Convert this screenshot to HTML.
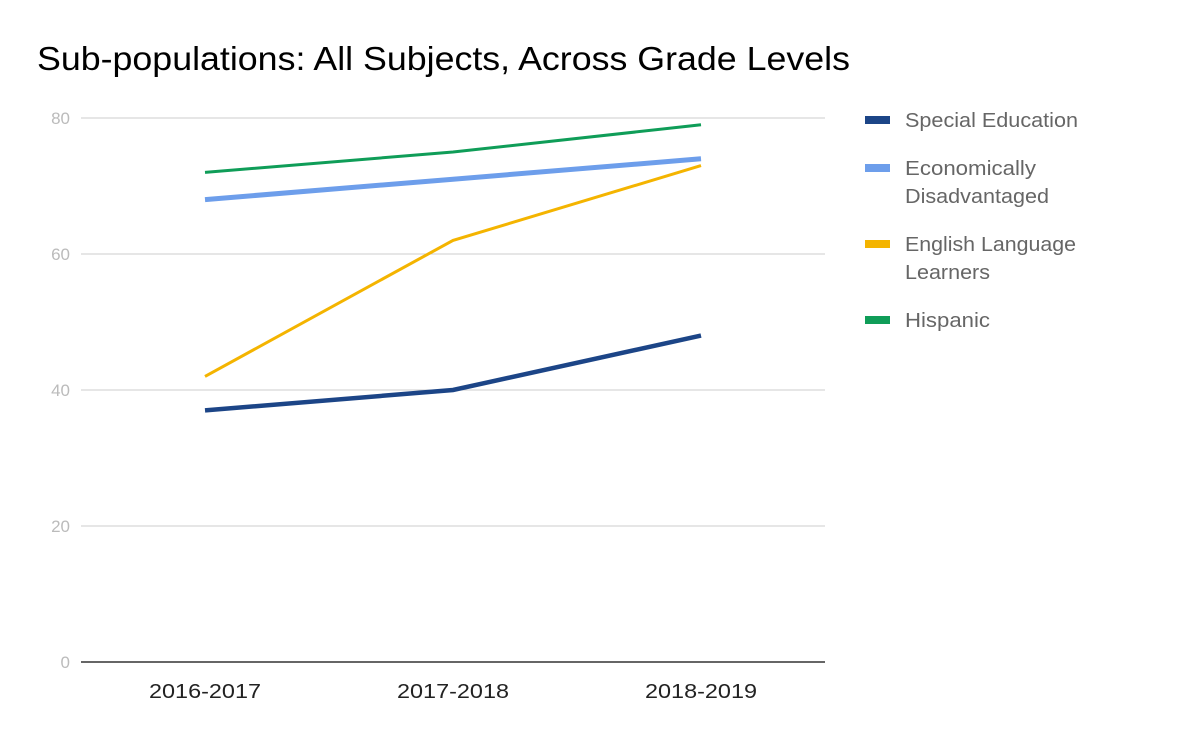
<!DOCTYPE html>
<html><head><meta charset="utf-8"><style>
body{margin:0;background:#fff;}
svg{display:block;font-family:"Liberation Sans",sans-serif;}
</style></head><body>
<svg id="chart" width="1200" height="742">
<text x="37" y="70" font-size="33" fill="#000" textLength="813" lengthAdjust="spacingAndGlyphs">Sub-populations: All Subjects, Across Grade Levels</text>
<g id="grid"></g><g id="lines"></g><g id="legend"></g>
</svg>
<script>
const categories = ["2016-2017","2017-2018","2018-2019"];
const yTicks = [0,20,40,60,80];
const seriesNames = ["Special Education","Economically Disadvantaged","English Language Learners","Hispanic"];
const specialEd = [37,40,48];
const econDis = [68,71,74];
const ell = [42,62,73];
const hispanic = [72,75,79];
const NS="http://www.w3.org/2000/svg";
const x0=81,x1=825,yBase=662,yTop=118,yMax=80;
const y=v=>yBase-(yBase-yTop)*v/yMax;
const bw=(x1-x0)/categories.length;
const x=i=>x0+bw*(i+0.5);
function mk(t,a,p){const e=document.createElementNS(NS,t);for(const k in a)e.setAttribute(k,a[k]);p.appendChild(e);return e;}
const grid=document.getElementById('grid');
yTicks.forEach(v=>{
 if(v>0){const l=mk('line',{x1:x0,x2:x1,y1:y(v),y2:y(v),stroke:'#ccc','stroke-width':1},grid);
 
 }
 const t=mk('text',{x:70,y:y(v)+6,'text-anchor':'end','font-size':17,fill:'#bbb'},grid);t.textContent=v;
 
 
});
const ax=mk('line',{x1:x0,x2:x1,y1:yBase,y2:yBase,stroke:'#333','stroke-width':1.5},grid);


categories.forEach((c,i)=>{const t=mk('text',{x:x(i),y:698,'text-anchor':'middle','font-size':20,fill:'#222',textLength:112,lengthAdjust:'spacingAndGlyphs'},grid);t.textContent=c;
 
 });
const series=[[specialEd,'#1c4587',4.5],[econDis,'#6d9eeb',5],[ell,'#f4b400',3],[hispanic,'#0f9d58',3]];
const lines=document.getElementById('lines');
series.forEach(([d,c,w],si)=>{
 const p=mk('polyline',{points:d.map((v,i)=>x(i)+','+y(v)).join(' '),fill:'none',stroke:c,'stroke-width':w},lines);
 
 
});
const leg=document.getElementById('legend');
const legY=[120,168,244,320];
const legText=[["Special Education"],["Economically","Disadvantaged"],["English Language","Learners"],["Hispanic"]];
const legW=[[173],[131,144],[171,85],[85]];
series.forEach(([d,c],i)=>{
 const g=mk('g',{},leg);
 
 
 mk('rect',{x:865,y:legY[i]-4,width:25,height:8,fill:c},g);
 legText[i].forEach((s,j)=>{const t=mk('text',{x:905,y:legY[i]+7+j*28,'font-size':20.5,fill:'#666',textLength:legW[i][j],lengthAdjust:'spacingAndGlyphs'},g);t.textContent=s;});
});
</script>
</body></html>
